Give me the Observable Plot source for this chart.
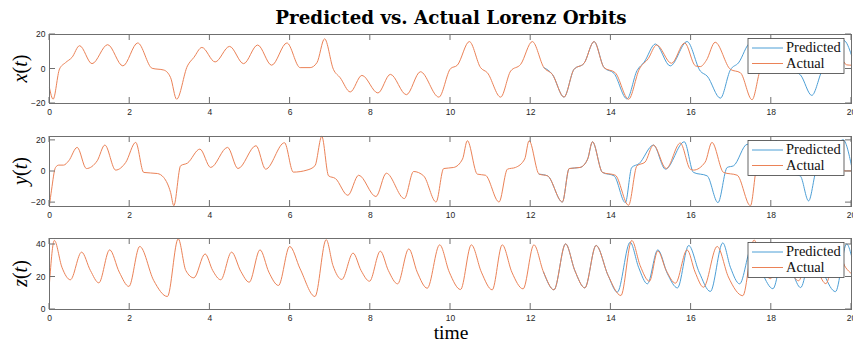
<!DOCTYPE html>
<html>
<head>
<meta charset="utf-8">
<script src="https://cdn.jsdelivr.net/npm/d3@7"></script>
<script src="https://cdn.jsdelivr.net/npm/@observablehq/plot@0.6"></script>
<style>
  html, body { margin: 0; padding: 0; background: #fff; }
  #fig { position: relative; width: 853px; height: 342px; overflow: hidden; background: #fff; }
  #fig svg { position: absolute; left: 0; }
  #title {
    position: absolute; left: 0; top: 8px; width: 902px; text-align: center;
    font: bold 18.3px/20px "DejaVu Serif", serif; color: #000; white-space: nowrap;
  }
</style>
</head>
<body>
<div id="fig"><div id="title">Predicted vs. Actual Lorenz Orbits</div></div>
<script>
// ---- data -------------------------------------------------------------
const SERIES = ["Predicted", "Actual"];
const SERIES_COLORS = ["#4d9fd6", "#eb8257"];
const TIME_TICKS = [0, 2, 4, 6, 8, 10, 12, 14, 16, 18, 20];
const TIME_DOMAIN = [0, 20];
const PREDICTION_START = 12.2;

// [time, value] samples of the true trajectory
const xActual = [
  [0.00, -11], [0.09, -17.5], [0.25, 0], [0.40, 3.7], [0.56, 6.7], [0.75, 13.5],
  [1.06, 3.1], [1.45, 14.1], [1.83, 1.8], [2.20, 15.1], [2.56, 0.4], [2.85, -0.6],
  [3.02, -5], [3.17, -17.5], [3.44, 1.8], [3.60, 6.7], [3.80, 12.5], [4.13, 4.1],
  [4.49, 13.1], [4.84, 3.1], [5.19, 13.9], [5.54, 2.2], [5.92, 15.1], [6.25, 0.8],
  [6.50, 0.8], [6.67, 3.7], [6.86, 17.5], [7.08, -0.2], [7.25, -5.1], [7.50, -13.3],
  [7.79, -3.7], [8.19, -13.9], [8.50, -3.1], [8.90, -14.9], [9.25, -1.6], [9.71, -16.3],
  [10.00, 0.2], [10.17, 2.2], [10.47, 15.9], [10.75, 0.8], [10.92, -2.2], [11.25, -16.3],
  [11.50, -1.2], [11.75, 2.7], [12.04, 15.9], [12.33, 0.8], [12.54, -3.1], [12.83, -16.3],
  [13.08, -0.2], [13.33, 3.3], [13.58, 15.9], [13.83, 0.8], [14.11, -2.2], [14.44, -17.5],
  [14.71, 0], [14.93, 6], [15.14, 13.9], [15.51, 3.3], [15.84, 15.1], [16.11, 1.8],
  [16.23, 1.4], [16.38, 5], [16.60, 15.5], [16.98, -0.2], [17.23, -2.2], [17.52, -17.8],
  [17.73, 0], [17.88, 5], [18.15, 12.5], [18.51, 4], [18.86, 13], [19.23, 3],
  [19.57, 14], [19.88, 2.4], [20.00, 2.2]
];
// model prediction after it leaves the true trajectory
const xPredicted = [
  [14.08, -2.6], [14.40, -17.3], [14.65, -1], [14.83, 4], [15.11, 14.5], [15.48, 1.8],
  [15.90, 15.9], [16.23, -1.2], [16.40, -4.1], [16.73, -16.9], [16.98, -0.5], [17.18, 3.5],
  [17.48, 15], [17.85, 2], [18.23, 15.5], [18.55, -0.8], [18.73, -3.5], [19.01, -15.3],
  [19.28, -0.3], [19.48, 4], [19.81, 16.5], [20.00, 8]
];

const yActual = [
  [0.00, -21.5], [0.05, -12], [0.15, 2.6], [0.23, 4.1], [0.35, 4.1], [0.48, 6.9],
  [0.69, 15.5], [0.92, 1.9], [1.19, 6.9], [1.38, 17], [1.65, 0.9], [1.90, 5.8],
  [2.15, 18.7], [2.35, -0.6], [2.69, -1.3], [2.85, -3.9], [3.02, -13.5], [3.10, -22],
  [3.27, 3.7], [3.44, 5.4], [3.75, 14.4], [4.02, 2.6], [4.44, 15.5], [4.70, 1.9],
  [5.15, 16.6], [5.39, 1.5], [5.86, 18.5], [6.08, -0.4], [6.42, 0.9], [6.62, 3.7],
  [6.79, 22.6], [6.96, -2.8], [7.13, -4.5], [7.44, -15.3], [7.71, -2.4], [8.14, -16.1],
  [8.40, -1.1], [8.85, -17.4], [9.08, 0], [9.33, -2.8], [9.64, -19.6], [9.83, 1.9],
  [10.08, 2.6], [10.30, 8], [10.42, 19.8], [10.67, -1.7], [10.87, -2.4], [11.21, -19.6],
  [11.42, 1.5], [11.62, 2.6], [11.85, 8], [11.96, 19.8], [12.21, -1.7], [12.42, -2.8],
  [12.79, -19.6], [12.96, 1.9], [13.23, 2.6], [13.42, 8], [13.54, 19.1], [13.79, -0.6],
  [14.11, -2.4], [14.44, -21.7], [14.65, 3.7], [14.85, 6], [15.06, 17], [15.38, 1.9],
  [15.73, 18.3], [15.98, 1.5], [16.06, 0.9], [16.35, 6], [16.52, 18.7], [16.81, -0.6],
  [17.15, -2.4], [17.48, -22], [17.65, 3.7], [17.83, 5.4], [18.08, 14.4], [18.35, 2.6],
  [18.78, 15.5], [19.03, 2], [19.48, 16.6], [19.73, 0.4], [20.00, 0.4]
];
const yPredicted = [
  [14.08, -2.8], [14.36, -20], [14.52, 2.6], [14.70, 5], [15.06, 17], [15.36, 1.5],
  [15.83, 19.1], [16.06, -0.6], [16.40, -2.8], [16.67, -20], [16.90, 2.6], [17.06, 3.7],
  [17.40, 17.5], [17.72, 2], [18.13, 19.8], [18.40, -1], [18.72, -2.8], [18.93, -18.9],
  [19.14, 1.5], [19.35, 3], [19.79, 20.4], [20.00, 3.7]
];

const zActual = [
  [0.00, 16.5], [0.12, 42.5], [0.31, 26], [0.52, 18.3], [0.80, 35.3], [1.02, 24],
  [1.23, 16.4], [1.50, 36.7], [1.74, 23], [1.98, 14.2], [2.25, 38.8], [2.60, 17.8],
  [2.94, 8], [3.21, 43.5], [3.40, 24], [3.60, 19.5], [3.88, 34.2], [4.07, 24],
  [4.27, 18.3], [4.54, 35.3], [4.77, 23.5], [4.98, 16.8], [5.25, 36.7], [5.47, 23],
  [5.71, 14.8], [5.99, 38.8], [6.25, 25], [6.62, 8], [6.90, 43], [7.07, 27],
  [7.29, 18.5], [7.57, 34.7], [7.77, 24], [7.98, 17.4], [8.25, 35.9], [8.45, 24],
  [8.68, 15.8], [8.96, 37.3], [9.17, 23], [9.42, 13.1], [9.73, 39.8], [9.97, 23],
  [10.25, 12.3], [10.52, 39.8], [10.77, 23], [11.04, 12.1], [11.29, 39.8], [11.53, 23],
  [11.81, 12.7], [12.08, 39.8], [12.32, 23], [12.58, 12.1], [12.87, 40.4], [13.10, 24],
  [13.35, 13.3], [13.63, 39.4], [13.93, 21], [14.25, 8.6], [14.52, 42.5], [14.73, 27],
  [14.96, 17.4], [15.17, 36], [15.38, 24], [15.61, 16.2], [15.90, 36.7], [16.10, 23],
  [16.31, 13.7], [16.65, 38.8], [16.93, 20], [17.29, 8.5], [17.57, 42.8], [17.76, 27],
  [17.98, 19], [18.26, 34], [18.47, 24], [18.68, 17.7], [18.95, 35.5], [19.17, 23],
  [19.36, 15.9], [19.63, 37], [19.85, 26], [20.00, 22]
];
const zPredicted = [
  [14.16, 10.7], [14.48, 41.4], [14.69, 26], [14.91, 15.8], [15.17, 36.7], [15.41, 22],
  [15.66, 13.3], [15.94, 39.4], [16.20, 23], [16.48, 11.1], [16.79, 41], [16.98, 26],
  [17.21, 15.8], [17.51, 38], [17.78, 22], [18.04, 12.8], [18.33, 38], [18.53, 23],
  [18.73, 13.5], [19.05, 41], [19.33, 21], [19.60, 11], [19.88, 40.3], [20.00, 33]
];

const X_TICKS_Y = [-20, 0, 20];
const Y_TICKS_Y = [-20, 0, 20];
const Z_TICKS_Y = [0, 20, 40];

// ---- styling ----------------------------------------------------------
const FRAME_COLOR = "#6f6f6f";
const LABEL_COLOR = "#262626";
const TICK_LEN = 6;
const SERIF = "'Liberation Serif', 'Times New Roman', serif";

// Predicted follows the true path (shared samples) until it branches off.
function seriesRows(actual, predictedTail) {
  const branch = predictedTail[0][0];
  const shared = actual.filter(([t]) => t >= PREDICTION_START && t < branch);
  return {
    predicted: [...shared, ...predictedTail].map(([t, v]) => ({t, v, series: SERIES[0]})),
    actual: actual.map(([t, v]) => ({t, v, series: SERIES[1]}))
  };
}

// MATLAB-style inward ticks on all four sides of the box
function innerTicks(yTicks) {
  return (index, {x, y}, values, dims) => {
    const left = dims.marginLeft, right = dims.width - dims.marginRight;
    const top = dims.marginTop, bottom = dims.height - dims.marginBottom;
    const g = d3.create("svg:g").attr("stroke", FRAME_COLOR).attr("stroke-width", 1);
    for (const t of TIME_TICKS) {
      const px = x(t);
      g.append("line").attr("x1", px).attr("x2", px).attr("y1", bottom).attr("y2", bottom - TICK_LEN);
      g.append("line").attr("x1", px).attr("x2", px).attr("y1", top).attr("y2", top + TICK_LEN);
    }
    for (const v of yTicks) {
      const py = y(v);
      g.append("line").attr("x1", left).attr("x2", left + TICK_LEN).attr("y1", py).attr("y2", py);
      g.append("line").attr("x1", right - TICK_LEN).attr("x2", right).attr("y1", py).attr("y2", py);
    }
    return g.node();
  };
}

// rotated math-style axis name, e.g. x(t)
function yName(symbol) {
  return (index, scales, values, dims) => {
    const mid = (dims.marginTop + dims.height - dims.marginBottom) / 2;
    const text = d3.create("svg:text")
      .attr("transform", `translate(20,${mid}) rotate(-90)`)
      .attr("text-anchor", "middle").attr("dy", "0.35em")
      .attr("font-family", SERIF).attr("font-size", 20).attr("fill", "#000");
    text.append("tspan").attr("font-style", "italic").text(symbol);
    text.append("tspan").text("(");
    text.append("tspan").attr("font-style", "italic").text("t");
    text.append("tspan").text(")");
    return text.node();
  };
}

// boxed legend in the upper right corner of the axes
function legendBox(index, scales, values, dims) {
  const right = dims.width - dims.marginRight - 7;
  const w = 96, h = 35;
  const left = right - w, top = dims.marginTop + 4.5;
  const g = d3.create("svg:g").attr("text-anchor", "start");
  g.append("rect").attr("x", left).attr("y", top).attr("width", w).attr("height", h)
    .attr("fill", "#fff").attr("stroke", "#404040").attr("stroke-width", 0.8);
  SERIES.forEach((name, i) => {
    const ly = top + 9.5 + i * 15.5;
    g.append("line").attr("x1", left + 4).attr("x2", left + 35).attr("y1", ly).attr("y2", ly)
      .attr("stroke", SERIES_COLORS[i]).attr("stroke-width", 1);
    g.append("text").attr("x", left + 38).attr("y", ly + 4.2).attr("text-anchor", "start")
      .attr("font-family", SERIF).attr("font-size", 14.5).attr("fill", "#111").text(name);
  });
  return g.node();
}

function xName(index, scales, values, dims) {
  return d3.create("svg:text")
    .attr("x", (dims.marginLeft + dims.width - dims.marginRight) / 2 + 1)
    .attr("y", dims.height - 3)
    .attr("text-anchor", "middle").attr("font-family", SERIF).attr("font-size", 19.5)
    .attr("fill", "#000").text("time").node();
}

const panels = [
  {symbol: "x", actual: xActual, predicted: xPredicted, domain: [-20, 20], ticks: X_TICKS_Y,
   top: 24, marginTop: 10, plotHeight: 69, marginBottom: 16},
  {symbol: "y", actual: yActual, predicted: yPredicted, domain: [-22.5, 22.5], ticks: Y_TICKS_Y,
   top: 126, marginTop: 10, plotHeight: 70, marginBottom: 16},
  {symbol: "z", actual: zActual, predicted: zPredicted, domain: [0, 43.7], ticks: Z_TICKS_Y,
   top: 228, marginTop: 10, plotHeight: 71, marginBottom: 33, xName: true}
];

const fig = document.getElementById("fig");
for (const p of panels) {
  const rows = seriesRows(p.actual, p.predicted);
  const svg = Plot.plot({
    width: 853,
    height: p.marginTop + p.plotHeight + p.marginBottom,
    marginLeft: 49, marginRight: 2, marginTop: p.marginTop, marginBottom: p.marginBottom,
    style: {fontFamily: "'Liberation Sans', Arial, sans-serif", fontSize: "8.5px", background: "transparent", overflow: "visible"},
    x: {domain: TIME_DOMAIN},
    y: {domain: p.domain},
    marks: [
      Plot.line(rows.predicted, {x: "t", y: "v", stroke: SERIES_COLORS[0], strokeWidth: 1, curve: "monotone-x"}),
      Plot.line(rows.actual, {x: "t", y: "v", stroke: SERIES_COLORS[1], strokeWidth: 1, curve: "monotone-x"}),
      Plot.axisX(TIME_TICKS, {tickSize: 0, tickPadding: 5.5, color: LABEL_COLOR, label: null}),
      Plot.axisY(p.ticks, {tickSize: 0, tickPadding: 4, color: LABEL_COLOR, label: null}),
      innerTicks(p.ticks),
      Plot.frame({stroke: FRAME_COLOR}),
      legendBox,
      yName(p.symbol),
      ...(p.xName ? [xName] : [])
    ]
  });
  svg.style.top = p.top + "px";
  fig.appendChild(svg);
}
</script>
</body>
</html>
